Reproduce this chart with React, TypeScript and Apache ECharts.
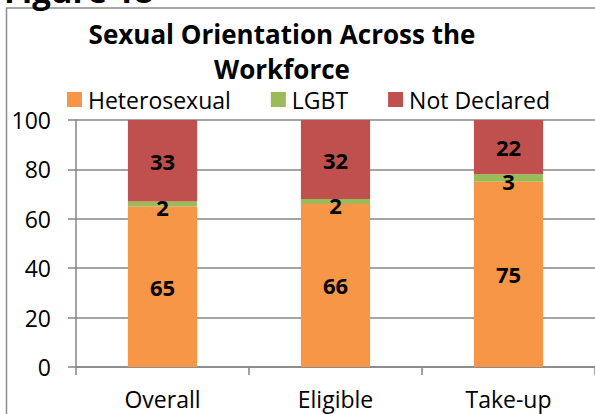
import React, { useEffect, useRef } from "react";
import * as echarts from "echarts";

const categories = ["Overall", "Eligible", "Take-up"];
const heterosexual = [65, 66, 75];
const lgbt = [2, 2, 3];
const notDeclared = [33, 32, 22];
const yTicks = { min: 0, max: 100, interval: 20 };

const FONT = "'Open Sans', 'Noto Sans', sans-serif";

export default function App() {
  const ref = useRef<HTMLDivElement>(null);
  useEffect(() => {
    if (!ref.current) return;
    const chart = echarts.init(ref.current, null, { renderer: "svg" });
    const label = {
      show: true,
      position: "inside",
      color: "#000",
      fontFamily: FONT,
      fontWeight: "bold",
      fontSize: 22,
    };
    chart.setOption({
      animation: false,
      backgroundColor: "#fff",
      textStyle: { fontFamily: FONT },
      graphic: [
        {
          type: "rect",
          shape: { x: 6.5, y: 8, width: 620, height: 440 },
          style: { fill: "none", stroke: "#8c8c8c", lineWidth: 1.5 },
          z: 0,
        },
        {
          type: "text",
          x: 4,
          y: 7,
          style: {
            text: "Figure 18",
            fontFamily: FONT,
            fontWeight: "bold",
            fontSize: 33,
            fill: "#000",
            textVerticalAlign: "bottom",
          },
        },
      ],
      title: {
        text: "Sexual Orientation Across the\nWorkforce",
        left: 282,
        textAlign: "center",
        top: 16,
        padding: 0,
        textStyle: {
          fontFamily: FONT,
          fontWeight: "bold",
          fontSize: 26,
          lineHeight: 35,
          color: "#000",
        },
      },
      legend: {
        left: 67,
        top: 88,
        padding: 0,
        itemWidth: 15,
        itemHeight: 15,
        itemGap: 40,
        icon: "rect",
        textStyle: { fontFamily: FONT, fontSize: 23, color: "#000", padding: [0, 0, 0, 1] },
        data: ["Heterosexual", "LGBT", "Not Declared"],
      },
      grid: { left: 76, top: 120, width: 525, height: 247, containLabel: false },
      xAxis: {
        type: "category",
        data: categories,
        axisLine: { lineStyle: { color: "#868686", width: 1.5 } },
        axisTick: { show: true, length: 8, lineStyle: { color: "#868686", width: 1.5 } },
        axisLabel: { color: "#000", fontFamily: FONT, fontSize: 23, margin: 20 },
      },
      yAxis: {
        type: "value",
        min: yTicks.min,
        max: yTicks.max,
        interval: yTicks.interval,
        axisLine: { show: true, lineStyle: { color: "#868686", width: 1.5 } },
        axisTick: { show: true, length: 8, lineStyle: { color: "#868686", width: 1.5 } },
        splitLine: { show: true, lineStyle: { color: "#868686", width: 1.5 } },
        axisLabel: { color: "#000", fontFamily: FONT, fontSize: 23, margin: 25 },
      },
      series: [
        {
          name: "Heterosexual",
          type: "bar",
          stack: "total",
          barWidth: "40%",
          data: heterosexual,
          itemStyle: { color: "#F79646" },
          label,
        },
        {
          name: "LGBT",
          type: "bar",
          stack: "total",
          barWidth: "40%",
          data: lgbt,
          itemStyle: { color: "#9BBB59" },
          label: { ...label, offset: [0, 3] },
        },
        {
          name: "Not Declared",
          type: "bar",
          stack: "total",
          barWidth: "40%",
          data: notDeclared,
          itemStyle: { color: "#C0504D" },
          label,
        },
      ],
    });
    return () => chart.dispose();
  }, []);
  return (
    <div
      ref={ref}
      style={{ position: "fixed", left: 0, top: 0, width: 595, height: 414 }}
    />
  );
}
